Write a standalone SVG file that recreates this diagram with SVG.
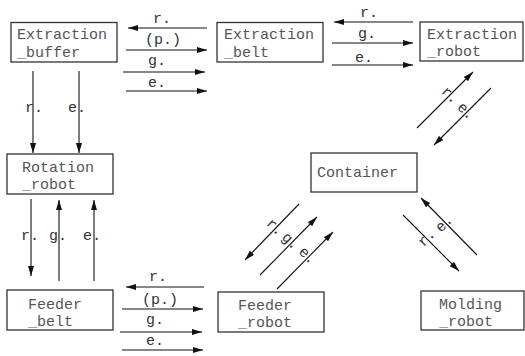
<svg xmlns="http://www.w3.org/2000/svg" width="525" height="356" viewBox="0 0 525 356">
<defs>
<style>
.box{fill:#fff;stroke:#333;stroke-width:1.3}
.nt{font-family:"Liberation Mono","DejaVu Sans Mono",monospace;font-size:15px;fill:#555}
.lt{font-family:"Liberation Mono","DejaVu Sans Mono",monospace;font-size:15px;fill:#333}
.ln{stroke:#111;stroke-width:1.1;fill:none}
.ah{marker-end:url(#arr)}
</style>
<marker id="arr" viewBox="0 0 10 6" refX="10" refY="3" markerWidth="10" markerHeight="6" markerUnits="userSpaceOnUse" orient="auto">
<path d="M0,0 L10,3 L0,6 z" fill="#111"/>
</marker>
</defs>
<rect width="525" height="356" fill="#fff"/>
<g id="extraction_buffer">
<rect class="box" x="11" y="22.5" width="106" height="39.5"/>
<text class="nt" x="17" y="39">Extraction</text>
<text class="nt" x="17" y="57">_buffer</text>
</g>
<g id="extraction_belt">
<rect class="box" x="217" y="22.5" width="106" height="39.5"/>
<text class="nt" x="224" y="39">Extraction</text>
<text class="nt" x="224" y="57">_belt</text>
</g>
<g id="extraction_robot">
<rect class="box" x="420" y="22" width="103" height="39"/>
<text class="nt" x="427" y="39">Extraction</text>
<text class="nt" x="427" y="56">_robot</text>
</g>
<g id="rotation_robot">
<rect class="box" x="7" y="154" width="106" height="40"/>
<text class="nt" x="22" y="172">Rotation</text>
<text class="nt" x="22" y="189">_robot</text>
</g>
<g id="container">
<rect class="box" x="311" y="153" width="106" height="39"/>
<text class="nt" x="317" y="177">Container</text>
</g>
<g id="feeder_belt">
<rect class="box" x="7" y="290" width="106" height="40"/>
<text class="nt" x="28" y="309">Feeder</text>
<text class="nt" x="28" y="326">_belt</text>
</g>
<g id="feeder_robot">
<rect class="box" x="218" y="292" width="106" height="40"/>
<text class="nt" x="238" y="310">Feeder</text>
<text class="nt" x="238" y="327">_robot</text>
</g>
<g id="molding_robot">
<rect class="box" x="421" y="291" width="103" height="39"/>
<text class="nt" x="439" y="309">Molding</text>
<text class="nt" x="439" y="326">_robot</text>
</g>
<g id="connectors">
<line class="ln ah" x1="207" y1="28" x2="128" y2="28"/>
<text class="lt" x="153" y="23">r.</text>
<line class="ln ah" x1="126" y1="50" x2="207" y2="50"/>
<text class="lt" x="145" y="44">(p.)</text>
<line class="ln ah" x1="123" y1="72" x2="205" y2="72"/>
<text class="lt" x="148" y="65">g.</text>
<line class="ln ah" x1="126" y1="91" x2="207" y2="91"/>
<text class="lt" x="148" y="87">e.</text>
<line class="ln ah" x1="413" y1="22" x2="334" y2="22"/>
<text class="lt" x="360" y="17">r.</text>
<line class="ln ah" x1="332" y1="43" x2="413" y2="43"/>
<text class="lt" x="358" y="38">g.</text>
<line class="ln ah" x1="332" y1="65" x2="413" y2="65"/>
<text class="lt" x="355" y="62">e.</text>
<line class="ln ah" x1="33" y1="71" x2="33" y2="153"/>
<line class="ln ah" x1="79" y1="71" x2="79" y2="153"/>
<text class="lt" x="25" y="112">r.</text>
<text class="lt" x="68" y="112">e.</text>
<line class="ln ah" x1="31" y1="199" x2="31" y2="276"/>
<line class="ln ah" x1="59" y1="281" x2="59" y2="200"/>
<line class="ln ah" x1="94" y1="281" x2="94" y2="200"/>
<text class="lt" x="21" y="240">r.</text>
<text class="lt" x="49" y="240">g.</text>
<text class="lt" x="83" y="240">e.</text>
<line class="ln ah" x1="204" y1="287" x2="126" y2="287"/>
<text class="lt" x="149" y="281">r.</text>
<line class="ln ah" x1="122" y1="309" x2="203" y2="309"/>
<text class="lt" x="142" y="304">(p.)</text>
<line class="ln ah" x1="120" y1="332" x2="202" y2="332"/>
<text class="lt" x="146" y="324">g.</text>
<line class="ln ah" x1="122" y1="350" x2="203" y2="350"/>
<text class="lt" x="146" y="345">e.</text>
<line class="ln ah" x1="417" y1="128" x2="473" y2="72"/>
<line class="ln ah" x1="491" y1="88" x2="434" y2="145"/>
<text class="lt" transform="translate(440.5,92) rotate(45)">r.</text>
<text class="lt" transform="translate(456.5,108) rotate(45)">e.</text>
<line class="ln ah" x1="299" y1="204" x2="245" y2="260"/>
<line class="ln ah" x1="260" y1="275" x2="317" y2="217"/>
<line class="ln ah" x1="277" y1="289" x2="333" y2="232"/>
<text class="lt" transform="translate(265.5,224) rotate(45)">r.</text>
<text class="lt" transform="translate(281,238) rotate(45)">g.</text>
<text class="lt" transform="translate(298,252.5) rotate(45)">e.</text>
<line class="ln ah" x1="403" y1="215" x2="459" y2="271"/>
<line class="ln ah" x1="477" y1="255" x2="421" y2="198"/>
<text class="lt" transform="translate(423.5,247.4) rotate(-45)">r.</text>
<text class="lt" transform="translate(441,233) rotate(-45)">e.</text>
</g>
</svg>
